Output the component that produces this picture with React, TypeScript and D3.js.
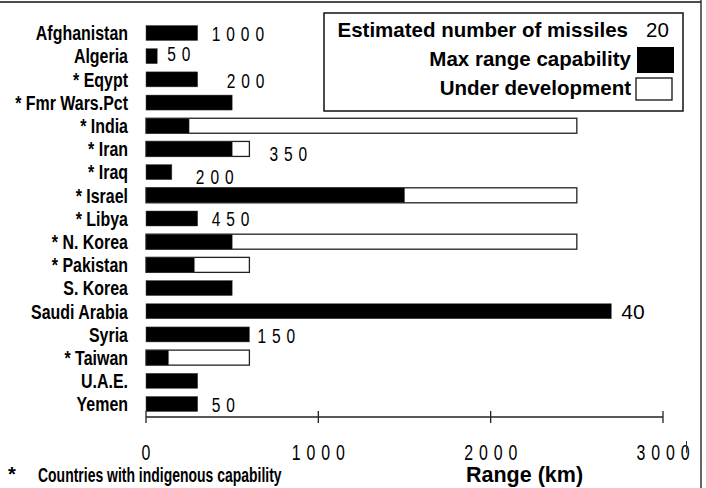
import React from "react";
import * as d3 from "d3";

const categories = [
  "Afghanistan", "Algeria", "* Eqypt", "* Fmr Wars.Pct", "* India", "* Iran", "* Iraq",
  "* Israel", "* Libya", "* N. Korea", "* Pakistan", "S. Korea", "Saudi Arabia", "Syria",
  "* Taiwan", "U.A.E.", "Yemen",
];
const maxRange = [300, 65, 300, 500, 250, 500, 150, 1500, 300, 500, 280, 500, 2700, 600, 130, 300, 300];
const underDev: (number | null)[] = [null, null, null, null, 2500, 600, null, 2500, null, 2500, 600, null, null, null, 600, null, null];
const missiles: (string | null)[] = ["1000", "50", "200", null, null, "350", "200", null, "450", null, null, null, "40", "150", null, null, "50"];
const xTicks = [0, 1000, 2000, 3000];
const xTickLabels = ["0", "1000", "2000", "3000"];

// layout-only tweaks for the number labels (px)
const labelGap = [14, 10, 29, 0, 0, 20, 24, 0, 14, 0, 0, 0, 10, 8, 0, 0, 14];
const labelDy = [0, -2.5, 1, 0, 0, 5, 4, 0, 0, 0, 0, 0, 0, 1, 0, 0, 0];

const W = 706, H = 488;
const FONT = "'Liberation Sans', Arial, sans-serif";

function Narrow({ x, y, size, bold, anchor, ls, children, sx = 0.74, fill = "#000" }: any) {
  return (
    <text
      transform={`translate(${x},${y}) scale(${sx},1)`}
      fontFamily={FONT}
      fontSize={size}
      fontWeight={bold ? "bold" : "normal"}
      textAnchor={anchor || "start"}
      letterSpacing={ls || 0}
      fill={fill}
    >
      {children}
    </text>
  );
}

export default function App() {
  const x = d3.scaleLinear().domain([0, 3000]).range([146, 663]);
  const y = d3.scalePoint<string>().domain(categories).range([33, 404]);
  const bh = 15;
  const axisY = 417;

  return (
    <svg width={W} height={H} style={{ position: "absolute", left: 0, top: 0, background: "#fff" }}>
      <rect x={0} y={0} width={W} height={H} fill="#fff" />
      {/* frame */}
      <line x1={0} x2={701} y1={2} y2={2} stroke="#111" strokeWidth={1.5} />
      <line x1={701} x2={701} y1={0} y2={H} stroke="#333" strokeWidth={1.5} />

      {/* bars */}
      {categories.map((c, i) => {
        const cy = y(c)!;
        const dev = underDev[i];
        return (
          <g key={c}>
            {dev != null && (
              <rect x={x(0)} y={cy - bh / 2} width={x(dev) - x(0)} height={bh} fill="#fff" stroke="#222" strokeWidth={1.3} />
            )}
            <rect x={x(0)} y={cy - bh / 2} width={x(maxRange[i]) - x(0)} height={bh} fill="#000" stroke="#444" strokeWidth={0.5} />
            <Narrow x={128} y={cy + 7.3} size={21} bold anchor="end" sx={0.76}>{c}</Narrow>
          </g>
        );
      })}

      {/* missile count labels */}
      {categories.map((c, i) => {
        const m = missiles[i];
        if (m == null) return null;
        const end = x(Math.max(maxRange[i], underDev[i] ?? 0));
        const cy = y(c)! + labelDy[i];
        if (c === "Saudi Arabia") {
          return (
            <text key={c} x={end + labelGap[i]} y={cy + 7.7} fontFamily={FONT} fontSize={21}>
              {m}
            </text>
          );
        }
        return (
          <Narrow key={c} x={end + labelGap[i]} y={cy + 7.5} size={21} ls={8}>
            {m}
          </Narrow>
        );
      })}

      {/* x axis */}
      <line x1={x(0)} x2={x(3000)} y1={axisY} y2={axisY} stroke="#222" strokeWidth={1.3} />
      {xTicks.map((t, i) => (
        <g key={t}>
          <line x1={x(t)} x2={x(t)} y1={axisY - 6} y2={axisY + 6} stroke="#222" strokeWidth={1.3} />
          <Narrow x={x(t) + 3} y={460} size={21.5} anchor="middle" ls={8}>{xTickLabels[i]}</Narrow>
        </g>
      ))}
      <line x1={686.5} x2={686.5} y1={441} y2={453} stroke="#333" strokeWidth={1} />

      {/* footnote and axis title */}
      <text x={8} y={481} fontFamily={FONT} fontSize={20} fontWeight="bold">*</text>
      <Narrow x={38} y={482} size={21} bold sx={0.665}>Countries with indigenous capability</Narrow>
      <text x={466} y={482} fontFamily={FONT} fontSize={21.5} fontWeight="bold">Range (km)</text>

      {/* legend */}
      <rect x={324} y={13} width={359} height={98} fill="#fff" stroke="#111" strokeWidth={1.5} />
      <text x={628} y={37} textAnchor="end" fontFamily={FONT} fontSize={20.5} fontWeight="bold">Estimated number of missiles</text>
      <text x={646} y={37} fontFamily={FONT} fontSize={20.5}>20</text>
      <text x={631} y={66} textAnchor="end" fontFamily={FONT} fontSize={20.5} fontWeight="bold">Max range capability</text>
      <rect x={637} y={47} width={37} height={26} fill="#000" />
      <text x={631} y={95} textAnchor="end" fontFamily={FONT} fontSize={20.5} fontWeight="bold">Under development</text>
      <rect x={636} y={78} width={36} height={22} fill="#fff" stroke="#111" strokeWidth={1.3} />
    </svg>
  );
}
